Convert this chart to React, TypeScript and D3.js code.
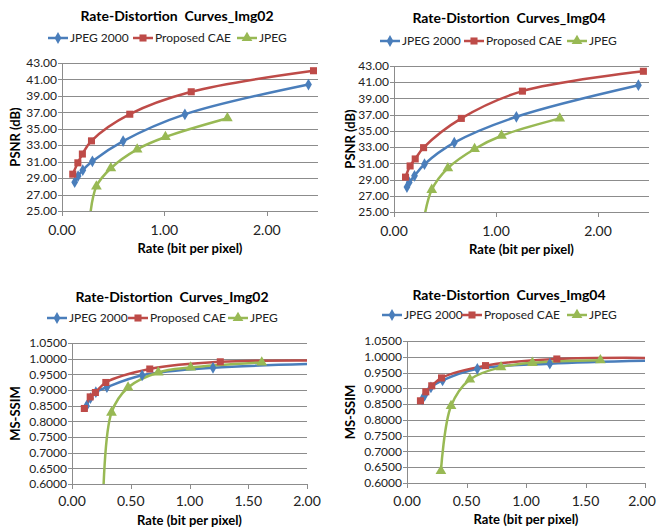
import { useEffect, useRef } from "react";
import * as d3 from "d3";

// values (rate in bpp, PSNR in dB, MS-SSIM)
const img02Jp2kRate = [0.124, 0.157, 0.203, 0.297, 0.597, 1.2, 2.407];
const img02Jp2kPsnr = [28.5, 29.25, 29.97, 31.04, 33.5, 36.75, 40.38];
const img02Jp2kSsim = [0.849, 0.874, 0.893, 0.909, 0.947, 0.971, 0.986];
const img02CaeRate = [0.105, 0.155, 0.199, 0.288, 0.662, 1.262, 2.456];
const img02CaePsnr = [29.48, 30.86, 31.93, 33.53, 36.77, 39.5, 42.06];
const img02CaeSsim = [0.841, 0.878, 0.892, 0.924, 0.967, 0.99, 0.993];
const img02JpegRate = [0.265, 0.336, 0.477, 0.734, 1.01, 1.615];
const img02JpegPsnr = [23.3, 28.0, 30.2, 32.5, 34.0, 36.28];
const img02JpegSsim = [0.55, 0.828, 0.908, 0.956, 0.972, 0.988];

const img04Jp2kRate = [0.127, 0.149, 0.201, 0.299, 0.591, 1.2, 2.396];
const img04Jp2kPsnr = [28.07, 28.64, 29.46, 30.89, 33.55, 36.74, 40.63];
const img04Jp2kSsim = [0.865, 0.878, 0.903, 0.925, 0.962, 0.978, 0.99];
const img04CaeRate = [0.113, 0.158, 0.208, 0.29, 0.66, 1.259, 2.445];
const img04CaePsnr = [29.3, 30.68, 31.54, 32.93, 36.54, 39.9, 42.35];
const img04CaeSsim = [0.8605, 0.889, 0.908, 0.933, 0.972, 0.993, 0.995];
const img04JpegRate = [0.285, 0.37, 0.528, 0.79, 1.054, 1.625];
const img04JpegPsnr = [23.5, 27.74, 30.4, 32.77, 34.4, 36.54];
const img04JpegSsim = [0.638, 0.844, 0.928, 0.967, 0.981, 0.989];

const psnrTicks = [25, 27, 29, 31, 33, 35, 37, 39, 41, 43];
const ssimTicks = [0.6, 0.65, 0.7, 0.75, 0.8, 0.85, 0.9, 0.95, 1.0, 1.05];
const psnrRateTicks = [0, 1, 2];
const ssimRateTicks = [0, 0.5, 1, 1.5, 2];
const legendNames = ["JPEG 2000", "Proposed CAE", "JPEG"];
const seriesColors = ["#4A7EBB", "#BE4B48", "#98B954"];
const seriesSymbols = [d3.symbolDiamond, d3.symbolSquare, d3.symbolTriangle];

const FONT = "Lato, 'Liberation Sans', sans-serif";
const W = 657;

const zip = (xs: number[], ys: number[]) => xs.map((x, i) => ({ x, y: ys[i] }));

const panels = [
  {
    title: "Rate-Distortion  Curves_Img02",
    yLabel: "PSNR (dB)",
    series: [
      zip(img02Jp2kRate, img02Jp2kPsnr),
      zip(img02CaeRate, img02CaePsnr),
      zip(img02JpegRate, img02JpegPsnr),
    ],
    xDomain: [0, 2.5], yDomain: [25, 43], xTicks: psnrRateTicks, yTicks: psnrTicks, yFmt: ".2f",
    plot: { l: 62, r: 318, t: 63, b: 211 },
    titleAt: [177, 16], legendY: 38, legendX: [48, 133, 237],
    yLabelX: 15, yTickX: 57, xTickY: 230, xLabelY: 248,
  },
  {
    title: "Rate-Distortion  Curves_Img04",
    yLabel: "PSNR (dB)",
    series: [
      zip(img04Jp2kRate, img04Jp2kPsnr),
      zip(img04CaeRate, img04CaePsnr),
      zip(img04JpegRate, img04JpegPsnr),
    ],
    xDomain: [0, 2.5], yDomain: [25, 43], xTicks: psnrRateTicks, yTicks: psnrTicks, yFmt: ".2f",
    plot: { l: 394, r: 649, t: 66, b: 212 },
    titleAt: [509, 18], legendY: 41, legendX: [380, 464, 567],
    yLabelX: 350, yTickX: 389, xTickY: 231, xLabelY: 249,
  },
  {
    title: "Rate-Distortion  Curves_Img02",
    yLabel: "MS-SSIM",
    series: [
      zip(img02Jp2kRate, img02Jp2kSsim),
      zip(img02CaeRate, img02CaeSsim),
      zip(img02JpegRate, img02JpegSsim),
    ],
    xDomain: [0, 2], yDomain: [0.6, 1.05], xTicks: ssimRateTicks, yTicks: ssimTicks, yFmt: ".4f",
    plot: { l: 72, r: 307, t: 343, b: 484 },
    titleAt: [172, 297], legendY: 318, legendX: [47, 128, 228],
    yLabelX: 15, yTickX: 67, xTickY: 501, xLabelY: 520,
  },
  {
    title: "Rate-Distortion  Curves_Img04",
    yLabel: "MS-SSIM",
    series: [
      zip(img04Jp2kRate, img04Jp2kSsim),
      zip(img04CaeRate, img04CaeSsim),
      zip(img04JpegRate, img04JpegSsim),
    ],
    xDomain: [0, 2], yDomain: [0.6, 1.05], xTicks: ssimRateTicks, yTicks: ssimTicks, yFmt: ".4f",
    plot: { l: 407, r: 645, t: 341, b: 483 },
    titleAt: [509, 295], legendY: 315, legendX: [382, 462, 567],
    yLabelX: 350, yTickX: 402, xTickY: 501, xLabelY: 519,
  },
];

const App = () => {
  const svgRef = useRef(null);

  useEffect(() => {
    const svg = d3.select(svgRef.current);
    svg.selectAll("*").remove();

    panels.forEach((p, pi) => {
      const g = svg.append("g");
      const xScale = d3.scaleLinear().domain(p.xDomain).range([p.plot.l, p.plot.r]);
      const yScale = d3.scaleLinear().domain(p.yDomain).range([p.plot.b, p.plot.t]);

      // gridlines
      g.selectAll(".grid")
        .data(p.yTicks)
        .join("line")
        .attr("x1", p.plot.l - 4)
        .attr("x2", p.plot.r)
        .attr("y1", (d) => Math.round(yScale(d)) + 0.5)
        .attr("y2", (d) => Math.round(yScale(d)) + 0.5)
        .attr("stroke", "#8c8c8c")
        .attr("stroke-width", 1);

      // y axis line
      g.append("line")
        .attr("x1", p.plot.l + 0.5)
        .attr("x2", p.plot.l + 0.5)
        .attr("y1", p.plot.t)
        .attr("y2", p.plot.b + 4)
        .attr("stroke", "#8c8c8c");

      // x tick marks
      g.selectAll(".xt")
        .data(p.xTicks)
        .join("line")
        .attr("x1", (d) => Math.round(xScale(d)) + 0.5)
        .attr("x2", (d) => Math.round(xScale(d)) + 0.5)
        .attr("y1", p.plot.b)
        .attr("y2", p.plot.b + 5)
        .attr("stroke", "#8c8c8c");

      const yFmt = d3.format(p.yFmt);
      g.selectAll(".yl")
        .data(p.yTicks)
        .join("text")
        .attr("x", p.yTickX)
        .attr("y", (d) => yScale(d))
        .attr("dy", "0.35em")
        .attr("text-anchor", "end")
        .attr("font-size", 12)
        .attr("fill", "#222")
        .text((d) => yFmt(d));

      // keep the last label inside the page
      g.selectAll(".xl")
        .data(p.xTicks)
        .join("text")
        .attr("x", (d) => Math.min(xScale(d), W - 15))
        .attr("y", p.xTickY)
        .attr("dy", "0.35em")
        .attr("text-anchor", "middle")
        .attr("font-size", 14)
        .attr("fill", "#222")
        .text((d) => d3.format(".2f")(d));

      // titles
      g.append("text")
        .attr("x", p.titleAt[0])
        .attr("y", p.titleAt[1])
        .attr("dy", "0.35em")
        .attr("text-anchor", "middle")
        .attr("font-size", 14)
        .attr("font-weight", "bold")
        .style("white-space", "pre")
        .text(p.title);

      g.append("text")
        .attr("x", (p.plot.l + p.plot.r) / 2)
        .attr("y", p.xLabelY)
        .attr("dy", "0.35em")
        .attr("text-anchor", "middle")
        .attr("font-size", 13)
        .attr("font-weight", "bold")
        .text("Rate (bit per pixel)");

      g.append("text")
        .attr("transform", `translate(${p.yLabelX},${(p.plot.t + p.plot.b) / 2}) rotate(-90)`)
        .attr("dy", "0.35em")
        .attr("text-anchor", "middle")
        .attr("font-size", 13)
        .attr("font-weight", "bold")
        .text(p.yLabel);

      // series
      const clipId = `clip${pi}`;
      g.append("clipPath")
        .attr("id", clipId)
        .append("rect")
        .attr("x", p.plot.l)
        .attr("y", p.plot.t - 6)
        .attr("width", p.plot.r - p.plot.l)
        .attr("height", p.plot.b - p.plot.t + 6);

      const line = d3
        .line<{ x: number; y: number }>()
        .x((d) => xScale(d.x))
        .y((d) => yScale(d.y))
        .curve(d3.curveCatmullRom.alpha(0.5));

      p.series.forEach((s, si) => {
        g.append("path")
          .datum(s)
          .attr("clip-path", `url(#${clipId})`)
          .attr("d", line)
          .attr("fill", "none")
          .attr("stroke", seriesColors[si])
          .attr("stroke-width", 2.5);
      });

      p.series.forEach((s, si) => {
        const inside = s.filter(
          (d) => d.x <= p.xDomain[1] && d.y >= p.yDomain[0] && d.y <= p.yDomain[1]
        );
        g.selectAll(`.m${si}`)
          .data(inside)
          .join("path")
          .attr("transform", (d) => `translate(${xScale(d.x)},${yScale(d.y)})`)
          .attr("d", d3.symbol().type(seriesSymbols[si]).size(si === 0 ? 40 : 50)())
          .attr("fill", seriesColors[si]);
      });

      // legend
      legendNames.forEach((name, si) => {
        const lx = p.legendX[si];
        g.append("line")
          .attr("x1", lx)
          .attr("x2", lx + 20)
          .attr("y1", p.legendY)
          .attr("y2", p.legendY)
          .attr("stroke", seriesColors[si])
          .attr("stroke-width", 2.5);
        g.append("path")
          .attr("transform", `translate(${lx + 10},${p.legendY})`)
          .attr("d", d3.symbol().type(seriesSymbols[si]).size(si === 0 ? 40 : 50)())
          .attr("fill", seriesColors[si]);
        g.append("text")
          .attr("x", lx + 22)
          .attr("y", p.legendY)
          .attr("dy", "0.35em")
          .attr("font-size", 12)
          .attr("fill", "#222")
          .text(name);
      });
    });
  }, []);

  return (
    <svg
      ref={svgRef}
      width={W}
      height={527}
      style={{ position: "absolute", left: 0, top: 0, background: "#fff", fontFamily: FONT }}
    />
  );
};

export default App;
